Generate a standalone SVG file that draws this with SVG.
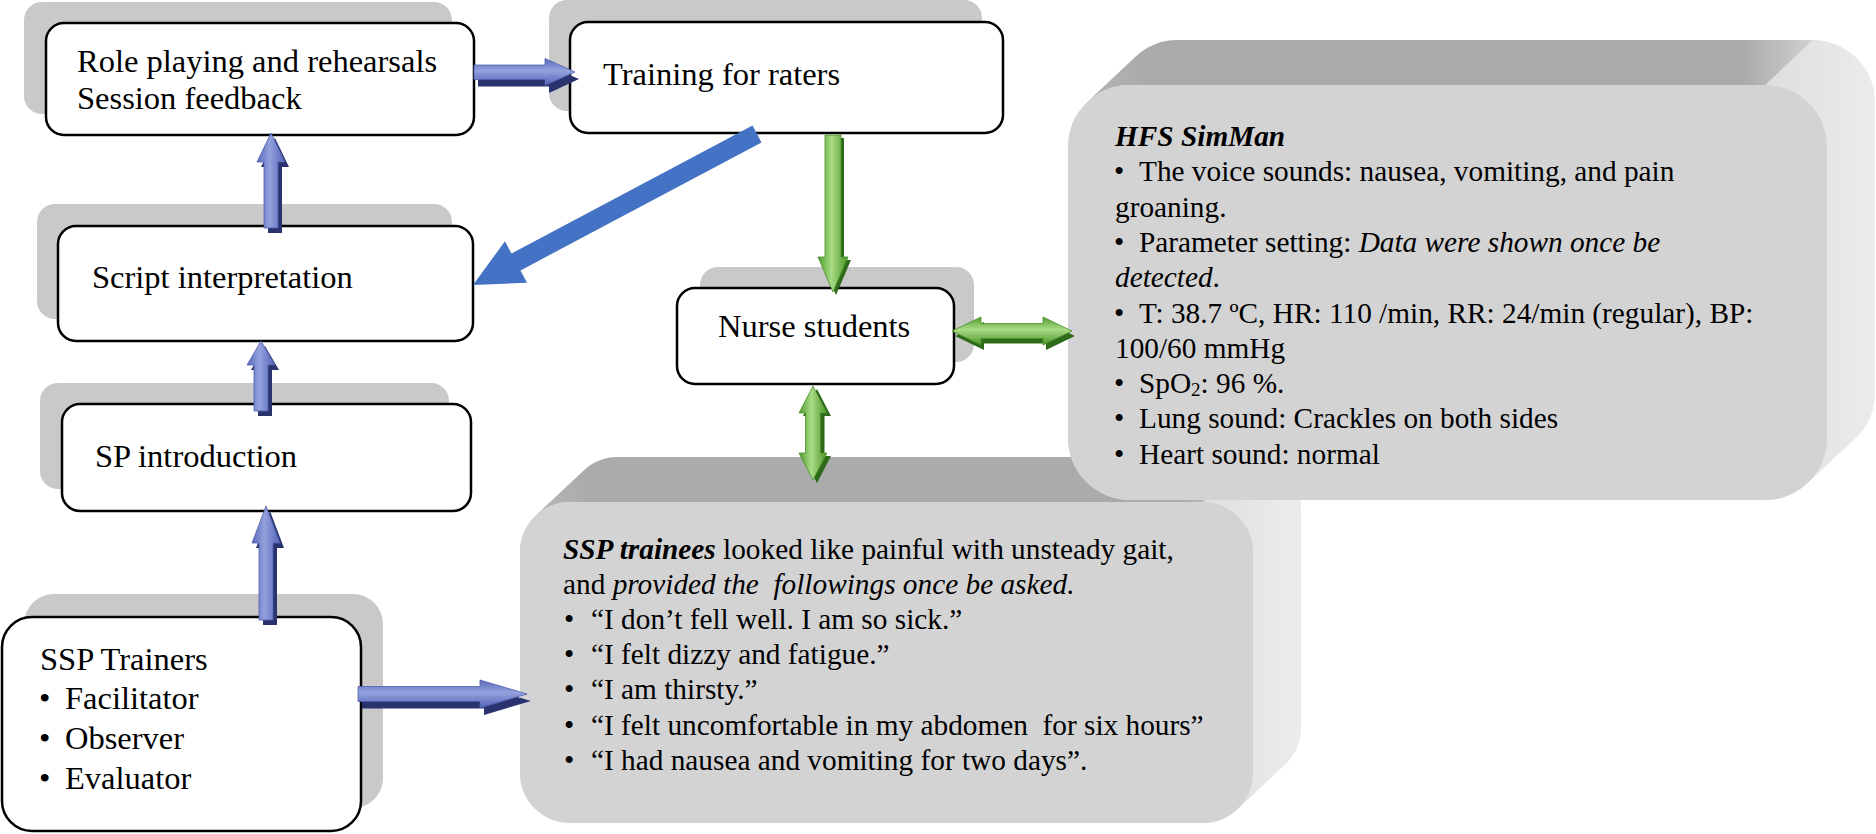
<svg xmlns="http://www.w3.org/2000/svg" width="1876" height="834" viewBox="0 0 1876 834">
<defs>
<linearGradient id="bH" x1="0" y1="0" x2="0" y2="1"><stop offset="0" stop-color="#5868bb"/><stop offset="0.45" stop-color="#94a1dd"/><stop offset="1" stop-color="#5363b6"/></linearGradient>
<linearGradient id="bV" x1="0" y1="0" x2="1" y2="0"><stop offset="0" stop-color="#5868bb"/><stop offset="0.45" stop-color="#94a1dd"/><stop offset="1" stop-color="#5363b6"/></linearGradient>
<linearGradient id="gH" x1="0" y1="0" x2="0" y2="1"><stop offset="0" stop-color="#4f9c2b"/><stop offset="0.45" stop-color="#a9dc86"/><stop offset="1" stop-color="#4a9427"/></linearGradient>
<linearGradient id="gV" x1="0" y1="0" x2="1" y2="0"><stop offset="0" stop-color="#4f9c2b"/><stop offset="0.45" stop-color="#a9dc86"/><stop offset="1" stop-color="#4a9427"/></linearGradient>
<linearGradient id="side" x1="0" y1="0" x2="1" y2="0"><stop offset="0.85" stop-color="#dcdcdc"/><stop offset="1" stop-color="#ececec"/></linearGradient>
<linearGradient id="topH" gradientUnits="userSpaceOnUse" x1="1080" y1="0" x2="1820" y2="0"><stop offset="0" stop-color="#b8b8b8"/><stop offset="0.08" stop-color="#ababab"/><stop offset="0.9" stop-color="#ababab"/><stop offset="1" stop-color="#d6d6d6"/></linearGradient>
<linearGradient id="topT" gradientUnits="userSpaceOnUse" x1="530" y1="0" x2="1255" y2="0"><stop offset="0" stop-color="#b8b8b8"/><stop offset="0.08" stop-color="#ababab"/><stop offset="0.9" stop-color="#ababab"/><stop offset="1" stop-color="#d6d6d6"/></linearGradient>
</defs>
<style>
.sh{fill:#c9c9c9}
.bx{fill:#fff;stroke:#000;stroke-width:2.5}
.t{font-family:"Liberation Serif","Times New Roman",serif;font-size:32.5px;fill:#000}
.m{font-family:"Liberation Serif","Times New Roman",serif;font-size:29.3px;fill:#000}
.bi{font-weight:bold;font-style:italic}
.i{font-style:italic}
.hull{fill:url(#side)}
.front{fill:#d3d3d3}
.bd{fill:#2b336f}
.bf{stroke:#5060b0;stroke-width:0.8}
.gd{fill:#2d6a19}
.gf{stroke:#4a8f28;stroke-width:0.8}
</style>

<g id="node-role">
<rect class="sh" x="24" y="2" width="428" height="112" rx="18"/>
<rect class="bx" x="46" y="23" width="428" height="112" rx="18"/>
<text class="t" x="77" y="72">Role playing and rehearsals</text>
<text class="t" x="77" y="108.5">Session feedback</text>
</g>

<g id="node-training">
<rect class="sh" x="549" y="0" width="433" height="111" rx="18"/>
<rect class="bx" x="570" y="22" width="433" height="111" rx="18"/>
<text class="t" x="603" y="85">Training for raters</text>
</g>

<g id="node-script">
<rect class="sh" x="37" y="204" width="415" height="115" rx="18"/>
<rect class="bx" x="58" y="226" width="415" height="115" rx="18"/>
<text class="t" x="92" y="288">Script interpretation</text>
</g>

<g id="node-sp">
<rect class="sh" x="40" y="383" width="409" height="106" rx="18"/>
<rect class="bx" x="62" y="404" width="409" height="107" rx="18"/>
<text class="t" x="95" y="467">SP introduction</text>
</g>

<g id="node-ssp-trainers">
<rect class="sh" x="24" y="594" width="359" height="214" rx="30"/>
<rect class="bx" x="2" y="617" width="359" height="214" rx="30"/>
<text class="t" x="40" y="669.5">SSP Trainers</text>
<text class="t" y="709"><tspan x="39">•</tspan><tspan x="65">Facilitator</tspan></text>
<text class="t" y="749"><tspan x="39">•</tspan><tspan x="65">Observer</tspan></text>
<text class="t" y="789"><tspan x="39">•</tspan><tspan x="65">Evaluator</tspan></text>
</g>

<g id="node-nurse">
<rect class="sh" x="700" y="267" width="274" height="95" rx="18"/>
<rect class="bx" x="677" y="288" width="277" height="96" rx="18"/>
<text class="t" x="718" y="337">Nurse students</text>
</g>

<g id="node-ssp-trainees">
<path class="hull" d="M535.8,515.5 L583.8,470.5 A50,50 0 0 1 618,457 L1251,457 A50,50 0 0 1 1301,507 L1301,728 A50,50 0 0 1 1285.2,764.5 L1237.2,809.5 A50,50 0 0 1 1203,823 L570,823 A50,50 0 0 1 520,773 L520,552 A50,50 0 0 1 535.8,515.5 Z"/>
<path fill="url(#topT)" d="M535.8,515.5 L583.8,470.5 A50,50 0 0 1 618,457 L1251,457 L1203,502 L570,502 A50,50 0 0 0 535.8,515.5 Z"/>
<rect class="front" x="520" y="502" width="733" height="321" rx="50"/>
<text class="m" x="563" y="558.5" xml:space="preserve"><tspan class="bi">SSP trainees</tspan> looked like painful with unsteady gait,</text>
<text class="m" x="563" y="593.7" xml:space="preserve">and <tspan class="i">provided the  followings once be asked.</tspan></text>
<text class="m" y="628.9"><tspan x="564">•</tspan><tspan x="591">“I don’t fell well. I am so sick.”</tspan></text>
<text class="m" y="664.1"><tspan x="564">•</tspan><tspan x="591">“I felt dizzy and fatigue.”</tspan></text>
<text class="m" y="699.3"><tspan x="564">•</tspan><tspan x="591">“I am thirsty.”</tspan></text>
<text class="m" y="734.5" xml:space="preserve"><tspan x="564">•</tspan><tspan x="591">“I felt uncomfortable in my abdomen  for six hours”</tspan></text>
<text class="m" y="769.7"><tspan x="564">•</tspan><tspan x="591">“I had nausea and vomiting for two days”.</tspan></text>
</g>

<g id="node-hfs">
<path class="hull" d="M1087.6,101.7 L1135.6,56.7 A62,62 0 0 1 1178,40 L1813,40 A62,62 0 0 1 1875,102 L1875,393 A62,62 0 0 1 1855.4,438.3 L1807.4,483.3 A62,62 0 0 1 1765,500 L1130,500 A62,62 0 0 1 1068,438 L1068,147 A62,62 0 0 1 1087.6,101.7 Z"/>
<path fill="url(#topH)" d="M1087.6,101.7 L1135.6,56.7 A62,62 0 0 1 1178,40 L1813,40 L1765,85 L1130,85 A62,62 0 0 0 1087.6,101.7 Z"/>
<rect class="front" x="1068" y="85" width="759" height="415" rx="62"/>
<text class="m bi" x="1115" y="146">HFS SimMan</text>
<text class="m" y="181.3"><tspan x="1114">•</tspan><tspan x="1139">The voice sounds: nausea, vomiting, and pain</tspan></text>
<text class="m" x="1115" y="216.6">groaning.</text>
<text class="m" y="251.9"><tspan x="1114">•</tspan><tspan x="1139">Parameter setting: </tspan><tspan class="i">Data were shown once be</tspan></text>
<text class="m" x="1115" y="287.2"><tspan class="i">detected</tspan>.</text>
<text class="m" y="322.5"><tspan x="1114">•</tspan><tspan x="1139">T: 38.7 ºC, HR: 110 /min, RR: 24/min (regular), BP:</tspan></text>
<text class="m" x="1115" y="357.8">100/60 mmHg</text>
<text class="m" y="393.1"><tspan x="1114">•</tspan><tspan x="1139">SpO</tspan><tspan font-size="19" dy="3">2</tspan><tspan dy="-3">: 96 %.</tspan></text>
<text class="m" y="428.4"><tspan x="1114">•</tspan><tspan x="1139">Lung sound: Crackles on both sides</tspan></text>
<text class="m" y="463.7"><tspan x="1114">•</tspan><tspan x="1139">Heart sound: normal</tspan></text>
</g>

<g id="connectors">
<polygon class="bd" points="478,72.5 549,72.5 549,66 579,79 549,93 549,86.5 478,86.5"/>
<polygon class="bf" fill="url(#bH)" points="474,65 545,65 545,58.5 575,72 545,85.5 545,79.5 474,79.5"/>
<polygon class="bd" points="268,233 268,167 261,167 275,138 289,167 282,167 282,233"/>
<polygon class="bf" fill="url(#bV)" points="264,228 264,162 257,162 271,133 285,162 278,162 278,228"/>
<polygon class="bd" points="258,416 258,370 251,370 265,346 279,370 272,370 272,416"/>
<polygon class="bf" fill="url(#bV)" points="254,411 254,365 247,365 261,341 275,365 268,365 268,411"/>
<polygon class="bd" points="263,625 263,548 256,548 270,511 284,548 277,548 277,625"/>
<polygon class="bf" fill="url(#bV)" points="259,620 259,543 252,543 266,506 280,543 273,543 273,620"/>
<polygon class="bd" points="362,694 484,694 484,687 531,701 484,715 484,708.5 362,708.5"/>
<polygon class="bf" fill="url(#bH)" points="358,686.5 480,686.5 480,680 527,694 480,708 480,701.5 358,701.5"/>
<polygon fill="#4472c4" points="752.5,125.6 761.5,142.4 520.5,270.4 527,282.8 473,285 505,241.2 511.5,253.6"/>
<polygon class="gd" points="828,138 844,138 844,260 851,260 836,295 821,260 828,260"/>
<polygon class="gf" fill="url(#gV)" points="825,135 841,135 841,257 848,257 833,292 818,257 825,257"/>
<polygon class="gd" points="955,336 984,322 984,328.5 1046,328.5 1046,322 1075,336 1046,350 1046,343.5 984,343.5 984,350"/>
<polygon class="gf" fill="url(#gH)" points="952,331 981,317 981,323.5 1043,323.5 1043,317 1072,331 1043,345 1043,338.5 981,338.5 981,345"/>
<polygon class="gd" points="817,389 831,416 824.5,416 824.5,456 831,456 817,483 803,456 809.5,456 809.5,416 803,416"/>
<polygon class="gf" fill="url(#gV)" points="813,386 827,413 820.5,413 820.5,453 827,453 813,480 799,453 805.5,453 805.5,413 799,413"/>
</g>
</svg>
